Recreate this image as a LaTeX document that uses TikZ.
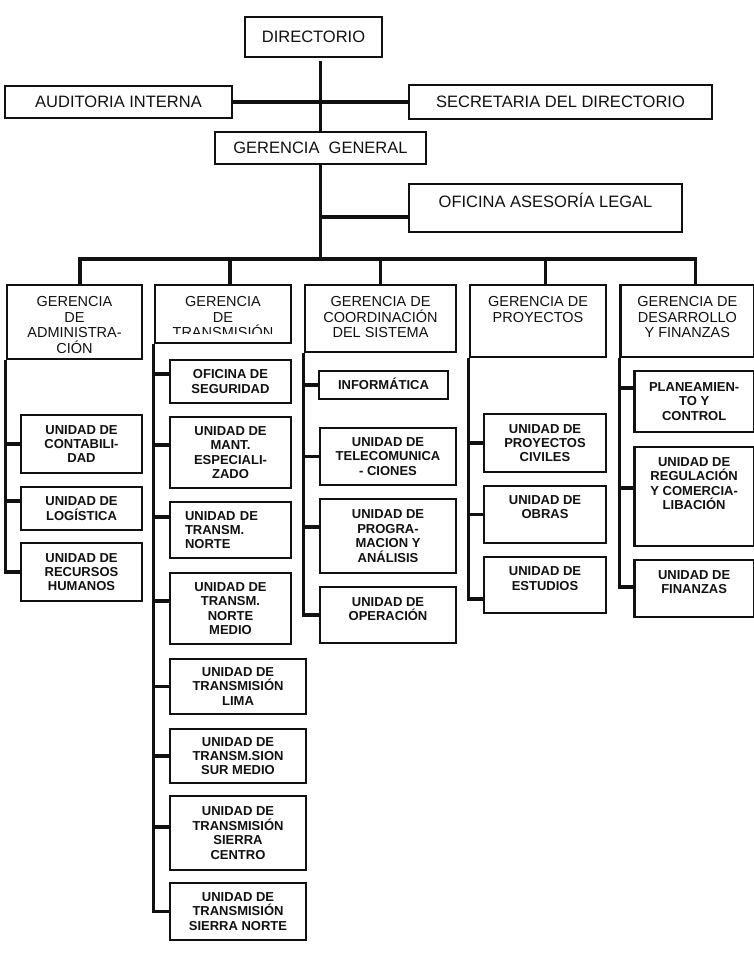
\documentclass[tikz,border=0pt]{standalone}
\usepackage{fontspec}
\setmainfont{Liberation Sans}
\definecolor{ink}{HTML}{111111}

\begin{document}
\begin{tikzpicture}[
  x=1pt, y=-1pt,
  every node/.style={inner sep=2pt, text=ink},
  boxline/.style={rectangle, draw=ink, line width=2.7pt},
  topbox/.style={boxline, font=\fontsize{16.5}{19}\selectfont},
  gerbox/.style={boxline},
  gertext/.style={font=\fontsize{14.5}{15.4}\selectfont, align=center, inner sep=0pt},
  unitbox/.style={boxline, font=\fontsize{13}{14.4}\selectfont\bfseries, align=center},
  unittext/.style={font=\fontsize{13}{14.4}\selectfont\bfseries, align=center, inner sep=0pt},
  link/.style={draw=ink, line width=3.2pt}
]
\path[use as bounding box, fill=white] (0,0) rectangle (754,975);

\node[topbox, minimum width=137pt, minimum height=40pt] (dir) at (313.5,37) {DIRECTORIO};
\node[topbox, minimum width=227pt, minimum height=32pt] (aud) at (118.5,102) {AUDITORIA INTERNA};
\node[topbox, minimum width=303pt, minimum height=34pt] (sec) at (560.5,102) {SECRETARIA DEL DIRECTORIO};
\node[topbox, minimum width=211pt, minimum height=32pt] (gg) at (320.5,148) {GERENCIA\ \ GENERAL};
\node[topbox, minimum width=273pt, minimum height=48pt, label={[font=\fontsize{16.5}{19}\selectfont, inner sep=0pt, text height=11.8pt, name=ase-t, anchor=north, yshift=-13pt]north:OFICINA ASESORÍA LEGAL}] (ase) at (545.5,208) {};

\node[gerbox, minimum width=135pt, minimum height=74pt, label={[gertext, name=gadm-t, anchor=north, yshift=-13pt]north:GERENCIA\\DE\\ADMINISTRA-\\CIÓN}] (gadm) at (74.5,322) {};
\node[gerbox, minimum width=136pt, minimum height=58pt] (gtra) at (223,314) {};
\begin{scope}
  \clip (gtra.north west) rectangle ([yshift=10.5pt]gtra.south east);
  \node[gertext, anchor=north] (gtra-t) at ([yshift=-13pt]gtra.north) {GERENCIA\\DE\\TRANSMISIÓN};
\end{scope}
\node[gerbox, minimum width=151pt, minimum height=67pt, label={[gertext, name=gcoo-t, anchor=north, yshift=-13pt]north:GERENCIA DE\\COORDINACIÓN\\DEL SISTEMA}] (gcoo) at (380.5,318.5) {};
\node[gerbox, minimum width=136pt, minimum height=72pt, label={[gertext, name=gpro-t, anchor=north, yshift=-13pt]north:GERENCIA DE\\PROYECTOS}] (gpro) at (538,321) {};
\node[gerbox, minimum width=133.3pt, minimum height=72pt, label={[gertext, name=gdes-t, anchor=north, yshift=-13pt]north:GERENCIA DE\\DESARROLLO\\Y FINANZAS}] (gdes) at (687.35,321) {};

\node[unitbox, minimum width=121pt, minimum height=58pt] (ucon) at (81.5,444) {UNIDAD DE\\CONTABILI-\\DAD};
\node[unitbox, minimum width=121pt, minimum height=43pt] (ulog) at (81.5,508.5) {UNIDAD DE\\LOGÍSTICA};
\node[unitbox, minimum width=121pt, minimum height=58pt] (urrh) at (81.5,572) {UNIDAD DE\\RECURSOS\\HUMANOS};

\node[unitbox, minimum width=121pt, minimum height=43pt] (useg) at (230.5,381.5) {OFICINA DE\\SEGURIDAD};
\node[unitbox, minimum width=121pt, minimum height=71pt] (uman) at (230.5,452.5) {UNIDAD DE\\MANT.\\ESPECIALI-\\ZADO};
\node[unitbox, minimum width=121pt, minimum height=56pt, align=left, text width=91pt, inner xsep=15pt] (unor) at (230.5,530) {UNIDAD DE\\TRANSM.\\NORTE};
\node[unitbox, minimum width=121pt, minimum height=71pt] (unme) at (230.5,608.5) {UNIDAD DE\\TRANSM.\\NORTE\\MEDIO};
\node[unitbox, minimum width=136pt, minimum height=55pt] (ulim) at (238,686.5) {UNIDAD DE\\TRANSMISIÓN\\LIMA};
\node[unitbox, minimum width=136pt, minimum height=54pt] (usur) at (238,756) {UNIDAD DE\\TRANSM.SION\\SUR MEDIO};
\node[unitbox, minimum width=136pt, minimum height=74pt] (usce) at (238,833) {UNIDAD DE\\TRANSMISIÓN\\SIERRA\\CENTRO};
\node[unitbox, minimum width=136pt, minimum height=57pt] (usno) at (238,911.5) {UNIDAD DE\\TRANSMISIÓN\\SIERRA NORTE};

\node[unitbox, minimum width=129pt, minimum height=28pt, text height=9.3pt, text depth=0pt] (uinf) at (383.5,385) {INFORMÁTICA};
\node[unitbox, minimum width=136pt, minimum height=57pt] (utel) at (388,456.5) {UNIDAD DE\\TELECOMUNICA\\- CIONES};
\node[unitbox, minimum width=136pt, minimum height=74pt] (uprg) at (388,536) {UNIDAD DE\\PROGRA-\\MACION Y\\ANÁLISIS};
\node[unitbox, minimum width=136pt, minimum height=56pt, label={[unittext, name=uope-t, anchor=north, yshift=-11.5pt]north:UNIDAD DE\\OPERACIÓN}] (uope) at (388,615) {};

\node[unitbox, minimum width=122pt, minimum height=58pt] (uciv) at (545,443) {UNIDAD DE\\PROYECTOS\\CIVILES};
\node[unitbox, minimum width=122pt, minimum height=57pt, label={[unittext, name=uobr-t, anchor=north, yshift=-10.5pt]north:UNIDAD DE\\OBRAS}] (uobr) at (545,514.5) {};
\node[unitbox, minimum width=122pt, minimum height=56pt, label={[unittext, name=uest-t, anchor=north, yshift=-11pt]north:UNIDAD DE\\ESTUDIOS}] (uest) at (545,585) {};

\node[unitbox, minimum width=119.7pt, minimum height=61pt] (upla) at (694.15,401.5) {PLANEAMIEN-\\TO Y\\CONTROL};
\node[unitbox, minimum width=119.7pt, minimum height=99pt, label={[unittext, name=ureg-t, anchor=north, yshift=-11.5pt]north:UNIDAD DE\\REGULACIÓN\\Y COMERCIA-\\LIBACIÓN}] (ureg) at (694.15,496.5) {};
\node[unitbox, minimum width=119.7pt, minimum height=57pt, label={[unittext, name=ufin-t, anchor=north, yshift=-11.5pt]north:UNIDAD DE\\FINANZAS}] (ufin) at (694.15,588.5) {};

\coordinate (bus) at (320.5,259);
\coordinate (asej) at ([yshift=-9pt]ase.west);

\draw[link, shorten <=3pt] (dir.south -| gg.north) -- (gg.north);
\draw[link] (aud.east) -- (sec.west);
\draw[link] (gg.south) -- (bus);
\draw[link] (asej) -- (asej -| gg.south);
\foreach \g/\dx in {gadm/5.5, gtra/7, gcoo/0, gpro/7.5, gdes/8}
  \draw[link] ([xshift=\dx pt]\g.north) |- (bus);

\foreach \u/\dy in {ucon/0, ulog/7.5, urrh/0}
  \draw[link] (gadm.south west) |- ([yshift=\dy pt]\u.west);
\foreach \u/\dy in {useg/7.5, uman/7.5, unor/13, unme/7.5, ulim/0, usur/0, usce/6, usno/0}
  \draw[link] (gtra.south west) |- ([yshift=\dy pt]\u.west);
\foreach \u/\dy in {uinf/0, utel/0, uprg/9, uope/0}
  \draw[link] (gcoo.south west) |- ([yshift=\dy pt]\u.west);
\foreach \u/\dy in {uciv/0, uobr/0, uest/-14}
  \draw[link] (gpro.south west) |- ([yshift=\dy pt]\u.west);
\foreach \u/\dy in {upla/13.5, ureg/8.5, ufin/1.5}
  \draw[link] (gdes.south west) |- ([yshift=\dy pt]\u.west);
\end{tikzpicture}
\end{document}
